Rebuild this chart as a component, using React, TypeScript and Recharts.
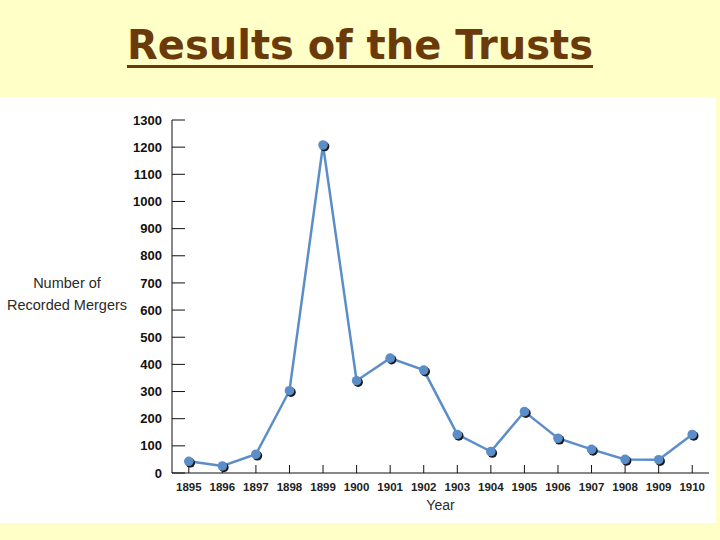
import React from "react";
import { LineChart, Line, XAxis, YAxis, Label } from "recharts";

const years = [1895, 1896, 1897, 1898, 1899, 1900, 1901, 1902, 1903, 1904, 1905, 1906, 1907, 1908, 1909, 1910];
const mergers = [43, 26, 69, 303, 1208, 340, 423, 379, 142, 79, 226, 128, 87, 50, 49, 142];
const yTicks = [0, 100, 200, 300, 400, 500, 600, 700, 800, 900, 1000, 1100, 1200, 1300];

const data = years.map((year, i) => ({ year, mergers: mergers[i] }));

const LINE = "#5b8ec9";

function ShadowDot(props: any) {
  const { cx, cy } = props;
  if (cx == null || cy == null) return null;
  return (
    <g>
      <circle cx={cx + 1.5} cy={cy + 1.5} r={4.8} fill="#1a1a1a" />
      <circle cx={cx} cy={cy} r={4.8} fill={LINE} />
    </g>
  );
}

function YLabel(props: any) {
  return (
    <text fill="#2a2a2a" fontSize={14.5} fontFamily="Liberation Sans, Arial, sans-serif" textAnchor="middle">
      <tspan x={67} y={288}>Number of</tspan>
      <tspan x={67} y={310}>Recorded Mergers</tspan>
    </text>
  );
}

export default function App() {
  return (
    <div
      style={{
        position: "absolute",
        left: 0,
        top: 0,
        width: 720,
        height: 540,
        background: "#ffffc8",
        overflow: "hidden",
      }}
    >
      <div
        style={{
          position: "absolute",
          left: 0,
          top: 0,
          width: 720,
          height: 97,
          textAlign: "center",
          fontFamily: "DejaVu Sans, sans-serif",
          fontWeight: "bold",
          fontSize: 40,
          lineHeight: "90px",
          color: "#6b3a0a",
        }}
      >
        <span
          style={{
            textDecoration: "underline",
            textDecorationThickness: 3,
            textUnderlineOffset: 6,
          }}
        >
          Results of the Trusts
        </span>
      </div>
      <div
        style={{
          position: "absolute",
          left: 0,
          top: 97,
          width: 716,
          height: 426,
          background: "#ffffff",
        }}
      />
      <div style={{ position: "absolute", left: 0, top: 0 }}>
        <LineChart
          width={720}
          height={540}
          data={data}
          margin={{ top: 120, right: 11, bottom: 27, left: 0 }}
        >
          <XAxis
            dataKey="year"
            type="number"
            domain={[1894.5, 1910.5]}
            ticks={years}
            allowDataOverflow
            height={40}
            stroke="#111"
            tickSize={-8}
            tickMargin={18}
            tick={{ fill: "#222", fontSize: 11.5, fontWeight: "bold", fontFamily: "Liberation Sans, Arial, sans-serif" }}
          >
            <Label
              value="Year"
              position="insideBottom"
              offset={3}
              fill="#2a2a2a"
              fontSize={14}
              fontFamily="Liberation Sans, Arial, sans-serif"
            />
          </XAxis>
          <YAxis
            type="number"
            domain={[0, 1300]}
            ticks={yTicks}
            width={172}
            stroke="#111"
            tickSize={-13}
            tickMargin={23}
            interval={0}
            tick={{ fill: "#111", fontSize: 13, fontWeight: "bold", fontFamily: "Liberation Sans, Arial, sans-serif" }}
          >
            <Label content={<YLabel />} />
          </YAxis>
          <Line
            type="linear"
            dataKey="mergers"
            stroke={LINE}
            strokeWidth={2.5}
            dot={<ShadowDot />}
            activeDot={false}
            isAnimationActive={false}
          />
        </LineChart>
      </div>
    </div>
  );
}
